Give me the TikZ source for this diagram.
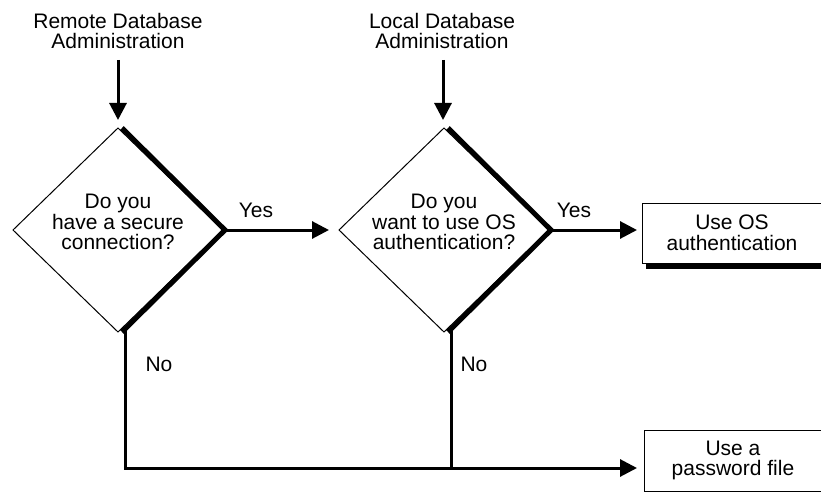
\documentclass[tikz,border=0pt]{standalone}
\usepackage{fontspec}
\setmainfont{Liberation Sans}
\usetikzlibrary{shapes.geometric,arrows.meta,calc}
\begin{document}
\begin{tikzpicture}[x=1pt,y=-1pt,
  txt/.style={font=\fontsize{21}{20.5}\selectfont, align=center, inner sep=0pt, outer sep=0pt},
  dia/.style={diamond, draw, line width=1pt, minimum width=210pt, minimum height=204pt, inner sep=0pt, outer sep=0pt},
  dshadow/.style={line width=5pt, line join=miter, miter limit=20},
  conn/.style={line width=3pt, line join=miter},
  arr/.style={conn, -{Triangle[length=17pt,width=17pt]}},
  procbox/.style={draw, line width=1pt, inner sep=0pt, outer sep=0pt, font=\fontsize{21}{20.5}\selectfont, align=center},
]
\useasboundingbox (0,0) rectangle (821,492);
\clip (0,0) rectangle (821,492);

% start labels
\node[txt, anchor=north] (t1) at (118,13) {Remote Database\\Administration};
\node[txt, anchor=north] (t2) at (442,13) {Local Database\\Administration};

% decisions
\node[dia] (d1) at (118,230) {};
\node[txt] (q1) at (118,222) {Do you\\have a secure\\connection?};
\node[dia] (d2) at (444,230) {};
\node[txt] (q2) at (444,222) {Do you\\want to use OS\\authentication?};

% shadows of decisions
\draw[dshadow] ($(d1.north)+(4,0)$) -- ($(d1.east)+(2,0)$) -- ($(d1.south)+(4,0)$);
\draw[dshadow] ($(d2.north)+(4,0)$) -- ($(d2.east)+(2,0)$) -- ($(d2.south)+(4,0)$);

% outcomes
\node[procbox, minimum width=180pt, minimum height=60pt] (b1) at (732,233) {Use OS\\authentication};
\node[procbox, minimum width=178pt, minimum height=61pt] (b2) at (733,460.5) {Use a\\password file};
\draw[line width=5pt] ($(b1.south west)+(4,3)$) -- ($(b1.south east)+(3,3)$) -- ($(b1.north east)+(3,4)$);
\draw[line width=5pt] ($(b2.south west)+(4,3)$) -- ($(b2.south east)+(3,3)$) -- ($(b2.north east)+(3,4)$);

% entry arrows
\coordinate (s1) at (118,60);
\coordinate (s2) at (443,60);
\draw[arr] (s1) -- ($(d1.north)+(0,-8)$);
\draw[arr] (s2) -- ($(d2.north |- s2)+(-1,0)$) -- ($(d2.north)+(-1,-8)$);

% yes arrows
\draw[arr] (d1.east) -- ($(d2.west)+(-10,0)$);
\draw[arr] (d2.east) -- ($(d2.east -| b1.west)+(-5,0)$);
\node[txt, anchor=base] (y1) at (256,217) {Yes};
\node[txt, anchor=base] (y2) at (574,217) {Yes};

% no paths
\coordinate (n1) at ($(d1.south)+(7,-2)$);
\coordinate (n2) at ($(d2.south)+(7,-2)$);
\coordinate (e) at (637,468);
\draw[arr] (n1) |- (e);
\draw[conn] (n2) -- (n2 |- e);
\node[txt, anchor=base] (no1) at (159,371) {No};
\node[txt, anchor=base] (no2) at (474,371) {No};
\end{tikzpicture}
\end{document}
